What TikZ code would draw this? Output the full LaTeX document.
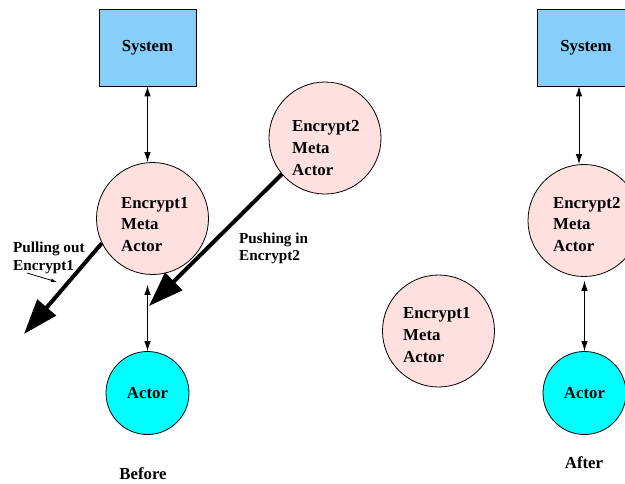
\documentclass[tikz,border=0pt]{standalone}
\usepackage{fontspec}
\setmainfont{Liberation Serif}
\usetikzlibrary{arrows.meta}
\definecolor{sysblue}{HTML}{87CEFA}
\definecolor{metapink}{HTML}{FFE0E0}
\definecolor{actorcyan}{HTML}{00FFFF}
\begin{document}
\begin{tikzpicture}[x=1pt,y=-1pt,
  sysbox/.style={draw,line width=0.8pt,fill=sysblue,minimum width=97pt,minimum height=77pt,inner sep=0pt,
    font=\fontsize{16.8}{21.5}\selectfont\bfseries},
  metacirc/.style={draw,line width=0.8pt,circle,fill=metapink,minimum size=112pt,inner sep=0pt},
  actorcirc/.style={draw,line width=0.8pt,circle,fill=actorcyan,minimum size=83pt,inner sep=0pt,
    font=\fontsize{16.8}{21.5}\selectfont\bfseries},
  metatext/.style={anchor=west,align=left,inner sep=0pt,font=\fontsize{16.8}{21.8}\selectfont\bfseries},
  notetext/.style={anchor=west,align=left,inner sep=0pt,font=\fontsize{15.2}{17.6}\selectfont\bfseries},
  captext/.style={inner sep=0pt,font=\fontsize{16.8}{20}\selectfont\bfseries},
  link/.style={line width=0.9pt,{Latex[length=10pt,width=6.5pt]}-{Latex[length=10pt,width=6.5pt]}},
  move/.style={line width=4pt,-{Triangle[length=35pt,width=24pt]}},
  pointer/.style={line width=0.8pt,-{Latex[length=6pt,width=3.5pt]}}]
\useasboundingbox (0,0) rectangle (625,483);
\clip (0,0) rectangle (625,483);

% ---- before ----
\node[sysbox] (sys1) at (147.5,47.5) {System};
\node[metacirc] (enc1) at (152.5,218.5) {};
\node[metatext] (enc1txt) at (121,224.5) {Encrypt1\\Meta\\Actor};
\node[actorcirc] (act1) at (147.5,393) {Actor};
\node[metacirc] (enc2) at (325,138) {};
\node[metatext] (enc2txt) at (292,148) {Encrypt2\\Meta\\Actor};
\node[captext] (before) at (143,474) {Before};

\draw[link] (sys1.south) -- (sys1.south |- enc1.north);
\draw[link] ([yshift=-10pt]act1.north |- enc1.south) -- (act1.north);

\coordinate (pulltip) at (24,334);
\coordinate (pushtip) at (149,306);
\draw[move] (enc1.206) -- (pulltip);
\draw[move] (enc2.220) -- (pushtip);

\node[notetext] (pullnote) at (13,258) {Pulling out\\Encrypt1};
\node[notetext] (pushnote) at (239,248.5) {Pushing in\\Encrypt2};
\coordinate (ptrstart) at (27,273);
\coordinate (ptrend) at (57,282);
\draw[pointer] (ptrstart) -- (ptrend);

% ---- removed actor ----
\node[metacirc] (enc1out) at (438.5,331) {};
\node[metatext] (enc1outtxt) at (403,335) {Encrypt1\\Meta\\Actor};

% ---- after ----
\node[sysbox] (sys2) at (586,47.5) {System};
\node[metacirc] (enc2in) at (584,220.5) {};
\node[metatext] (enc2intxt) at (553,224.5) {Encrypt2\\Meta\\Actor};
\node[actorcirc] (act2) at (584.5,393) {Actor};
\node[captext] (after) at (584,463) {After};

\draw[link] ([xshift=-7pt]sys2.south) -- ([xshift=-7pt]sys2.south |- enc2in.north);
\draw[link] ([yshift=-4pt]act2.north |- enc2in.south) -- (act2.north);
\end{tikzpicture}
\end{document}
